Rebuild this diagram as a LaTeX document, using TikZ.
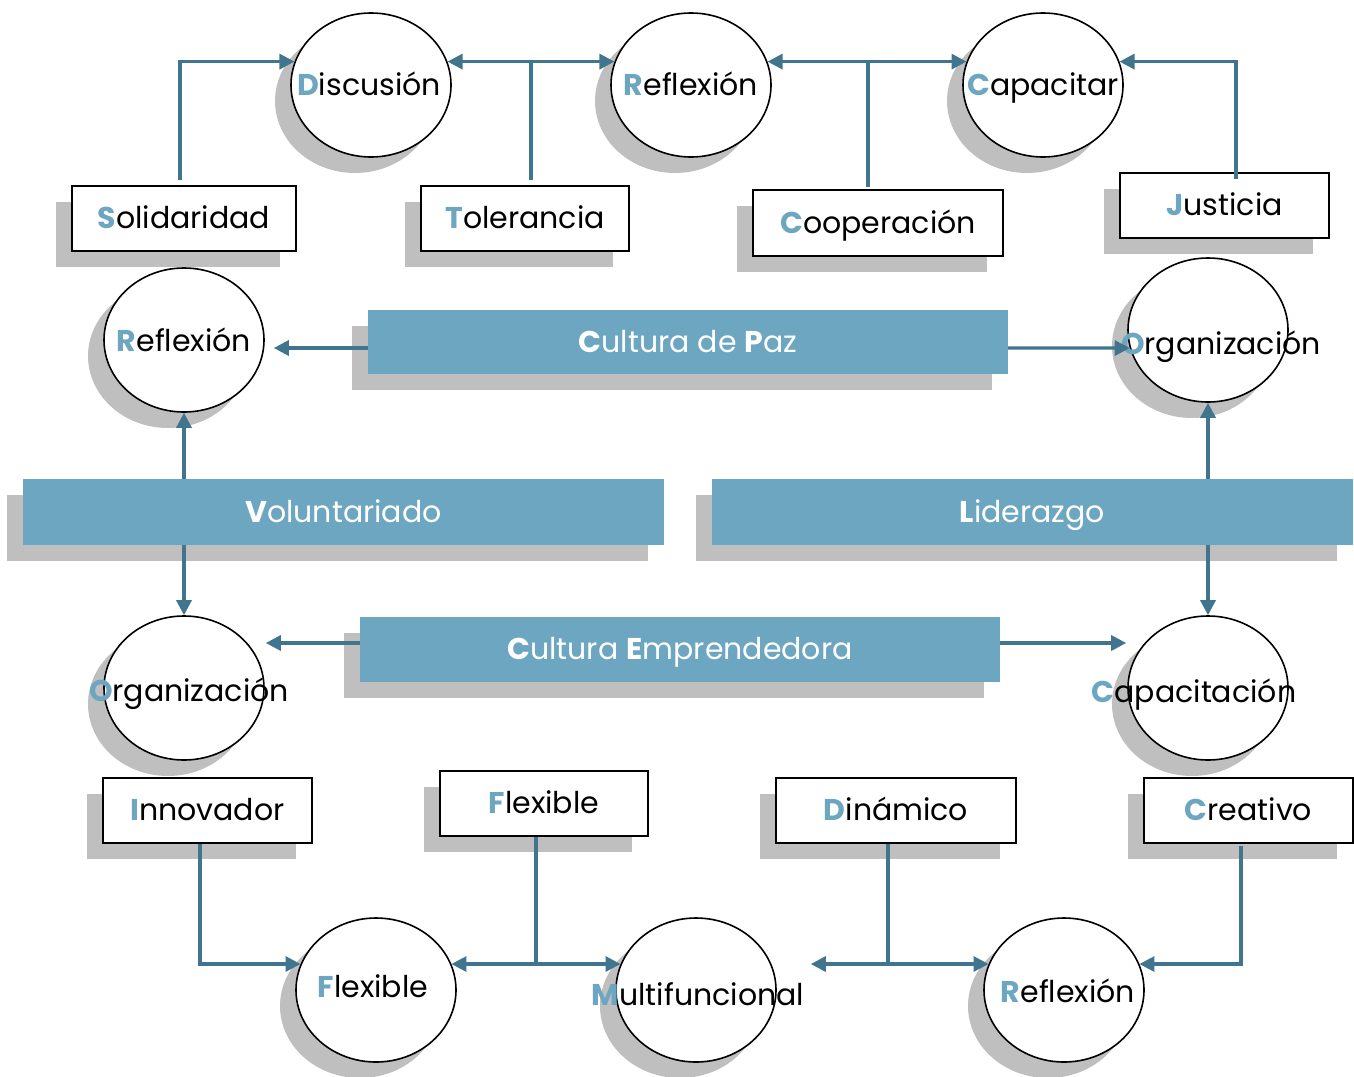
\documentclass[tikz,border=0pt]{standalone}
\usepackage{fontspec}
\setmainfont{Poppins}
\usetikzlibrary{shapes.geometric,arrows.meta,shadows}
\definecolor{barblue}{HTML}{6CA6C1}
\definecolor{linkblue}{HTML}{41748F}
\definecolor{shgray}{HTML}{BFBFBF}
\newcommand{\ini}[1]{{\color{barblue}\bfseries #1}}
\newcommand{\bini}[1]{{\bfseries #1}}
\begin{document}
\begin{tikzpicture}[x=1pt,y=-1pt,
 txt/.style={font=\fontsize{30}{34}\selectfont,inner sep=0pt,text height=24pt,text depth=4pt},
 sh/.style={general shadow={fill=shgray,shadow xshift=-16pt,shadow yshift=-16pt}},
 circ/.style={ellipse,draw,line width=1.6pt,fill=white,minimum width=160pt,minimum height=144pt,inner sep=0pt,sh},
 wbox/.style={txt,rectangle,draw,line width=1.6pt,fill=white,sh},
 bar/.style={txt,rectangle,fill=barblue,text=white,sh,minimum width=641pt,minimum height=66pt},
 link/.style={draw=linkblue,line width=3.2pt},
 arr/.style={link,-{Triangle[length=15pt,width=15pt]}},
 darr/.style={link,{Triangle[length=15pt,width=15pt]}-{Triangle[length=15pt,width=15pt]}}]
\useasboundingbox (0,0) rectangle (1354,1076);

% circles
\node[circ] (disc) at (371,85) {};
\node[circ] (reflT) at (691,85) {};
\node[circ] (cap) at (1043,85) {};
\node[circ] (reflL) at (184,340) {};
\node[circ] (orgR) at (1208,330) {};
\node[circ] (orgL) at (184,688) {};
\node[circ] (capC) at (1208,688) {};
\node[circ] (flexC) at (376,990) {};
\node[circ] (multi) at (696,990) {};
\node[circ] (reflB) at (1064,990) {};

\node[txt] (tdisc) at (369,85) {\ini{D}iscusión};
\node[txt] (treflT) at (691,85) {\ini{R}eflexión};
\node[txt] (tcap) at (1043,85) {\ini{C}apacitar};
\node[txt] (treflL) at (184,341) {\ini{R}eflexión};
\node[txt] (torgR) at (1221,344) {\ini{O}rganización};
\node[txt] (torgL) at (189,691) {\ini{O}rganización};
\node[txt] (tcapC) at (1194,692) {\ini{C}apacitación};
\node[txt] (tflexC) at (373,987) {\ini{F}lexible};
\node[txt] (tmulti) at (698,995) {\ini{M}ultifuncional};
\node[txt] (treflB) at (1068,992) {\ini{R}eflexión};

% boxes
\node[wbox,minimum width=224pt,minimum height=65pt] (solid) at (184,218.5) {\ini{S}olidaridad};
\node[wbox,minimum width=208pt,minimum height=65pt] (tol) at (525,218.5) {\ini{T}olerancia};
\node[wbox,minimum width=250pt,minimum height=66pt] (coop) at (878,223) {\ini{C}ooperación};
\node[wbox,minimum width=209pt,minimum height=65pt] (just) at (1224.5,205.5) {\ini{J}usticia};
\node[wbox,minimum width=209pt,minimum height=65pt] (innov) at (207.5,810.5) {\ini{I}nnovador};
\node[wbox,minimum width=208pt,minimum height=65pt] (flexB) at (544,803.5) {\ini{F}lexible};
\node[wbox,minimum width=240pt,minimum height=65pt] (din) at (896,810.5) {\ini{D}inámico};
\node[wbox,minimum width=209pt,minimum height=65pt] (crea) at (1248.5,810.5) {\ini{C}reativo};

% bars
\node[bar,minimum width=640pt,minimum height=64pt] (paz) at (688,342) {\bini{C}ultura de \bini{P}az};
\node[bar] (vol) at (343.5,512) {\bini{V}oluntariado};
\node[bar] (lid) at (1032.5,512) {\bini{L}iderazgo};
\node[bar,minimum width=640pt,minimum height=65pt] (emp) at (680,649.5) {\bini{C}ultura \bini{E}mprendedora};

\coordinate (dinL) at ([xshift=34pt]reflB.161 -| multi.east);

% connectors top
\draw[arr] ([xshift=-4pt,yshift=5pt]solid.north) |- (disc.163);
\draw[darr] (disc.17) -- (reflT.163);
\draw[link] ([xshift=6pt,yshift=5pt]tol.north) -- ([xshift=6pt]tol.north |- disc.17);
\draw[darr] (reflT.17) -- (cap.163);
\draw[link] ([xshift=-10pt,yshift=2pt]coop.north) -- ([xshift=-10pt]coop.north |- reflT.17);
\draw[arr] ([xshift=11.5pt,yshift=-7pt]just.north) |- (cap.17);

% middle
\draw[arr] ([yshift=-6pt]paz.west) -- ([xshift=9pt,yshift=-8pt]reflL.east);
\draw[arr] ([yshift=-6pt]paz.east) -- (orgR.193);
\draw[arr] (vol.north -| reflL.south) -- (reflL.south);
\draw[arr] (vol.south -| orgL.north) -- (orgL.north);
\draw[arr] (lid.north -| orgR.south) -- (orgR.south);
\draw[arr] (lid.south -| capC.north) -- (capC.north);
\draw[arr] ([yshift=6.5pt]emp.west) -- ([xshift=1pt,yshift=6.5pt]emp.west -| orgL.east);
\draw[arr] ([yshift=6.5pt]emp.east) -- ([xshift=-1pt,yshift=6.5pt]emp.east -| capC.west);

% bottom
\draw[arr] ([xshift=-7.5pt]innov.south) |- (flexC.161);
\draw[darr] (flexC.19) -- (multi.161);
\draw[link] ([xshift=-8pt]flexB.south) -- ([xshift=-8pt]flexB.south |- flexC.19);
\draw[darr] (dinL) -- (reflB.161);
\draw[link] ([xshift=-8pt]din.south) -- ([xshift=-8pt]din.south |- reflB.161);
\draw[arr] ([xshift=-7.5pt,yshift=-2pt]crea.south) |- (reflB.19);
\end{tikzpicture}
\end{document}
